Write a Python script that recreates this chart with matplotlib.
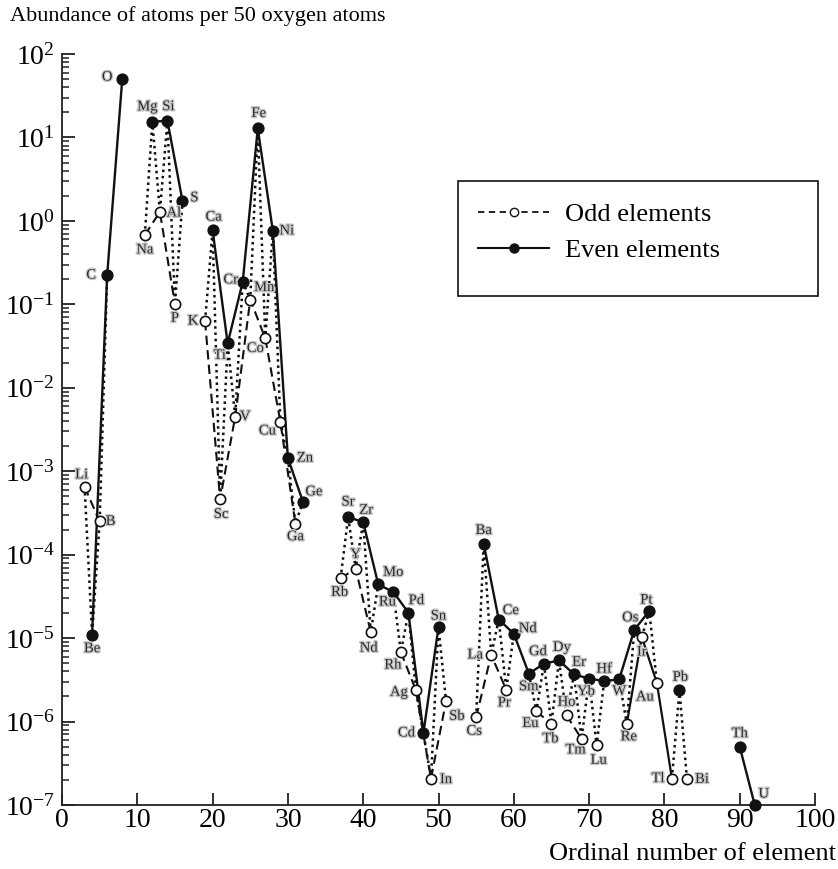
import matplotlib
matplotlib.use('Agg')
import matplotlib.pyplot as plt
import matplotlib.patheffects as pe
from matplotlib.lines import Line2D
from matplotlib.patches import Rectangle
from matplotlib.ticker import LogLocator, NullFormatter, FixedLocator

plt.rcParams['font.family'] = ['Liberation Serif', 'DejaVu Serif']
plt.rcParams['mathtext.default'] = 'regular'

# ---------------- data ----------------
odd_names = ['Li', 'B', 'Na', 'Al', 'P', 'K', 'Sc', 'V', 'Mn', 'Co', 'Cu', 'Ga',
             'Rb', 'Y', 'Nd', 'Rh', 'Ag', 'In', 'Sb', 'Cs', 'La', 'Pr', 'Eu', 'Tb',
             'Ho', 'Tm', 'Lu', 'Re', 'Ir', 'Au', 'Tl', 'Bi']
odd_z = [3, 5, 11, 13, 15, 19, 21, 23, 25, 27, 29, 31,
         37, 39, 41, 45, 47, 49, 51, 55, 57, 59, 63, 65,
         67, 69, 71, 75, 77, 79, 81, 83]
odd_vals = [6.5e-4, 2.5e-4, 0.68, 1.28, 0.10, 0.063, 4.6e-4, 4.5e-3, 0.114, 0.039, 3.9e-3, 2.35e-4,
            5.2e-5, 6.8e-5, 1.18e-5, 6.8e-6, 2.37e-6, 2.07e-7, 1.75e-6, 1.13e-6, 6.3e-6, 2.4e-6, 1.32e-6, 9.4e-7,
            1.19e-6, 6.2e-7, 5.2e-7, 9.4e-7, 1.03e-5, 2.9e-6, 2.07e-7, 2.03e-7]

even_names = ['Be', 'C', 'O', 'Mg', 'Si', 'S', 'Ca', 'Ti', 'Cr', 'Fe', 'Ni', 'Zn', 'Ge',
              'Sr', 'Zr', 'Mo', 'Ru', 'Pd', 'Cd', 'Sn', 'Ba', 'Ce', 'Nd', 'Sm', 'Gd', 'Dy',
              'Er', 'Yb', 'Hf', 'W', 'Os', 'Pt', 'Pb', 'Th', 'U']
even_z = [4, 6, 8, 12, 14, 16, 20, 22, 24, 26, 28, 30, 32,
          38, 40, 42, 44, 46, 48, 50, 56, 58, 60, 62, 64, 66,
          68, 70, 72, 74, 76, 78, 82, 90, 92]
even_vals = [1.1e-5, 0.224, 50.0, 15.4, 15.9, 1.74, 0.776, 0.034, 0.186, 12.8, 0.76, 1.44e-3, 4.3e-4,
             2.83e-4, 2.45e-4, 4.4e-5, 3.57e-5, 2.02e-5, 7.3e-7, 1.36e-5, 1.36e-4, 1.67e-5, 1.13e-5, 3.75e-6, 4.94e-6, 5.4e-6,
             3.68e-6, 3.27e-6, 3.06e-6, 3.2e-6, 1.26e-5, 2.11e-5, 2.37e-6, 5.0e-7, 1.0e-7]

# connected groups (by ordinal number)
odd_dashed_chains = [[3, 5], [11, 13, 15], [19, 21, 23, 25, 27, 29, 31], [37, 39, 41],
                     [45, 47, 49, 51], [55, 57, 59], [63, 65], [67, 69]]
odd_solid_chains = [[75, 77, 79, 81]]
even_chains = [[4, 6, 8], [12, 14, 16], [20, 22, 24, 26, 28, 30, 32],
               [38, 40, 42, 44, 46, 48, 50],
               [56, 58, 60, 62, 64, 66, 68, 70, 72, 74, 76, 78], [90, 92]]

x_ticks = [0, 10, 20, 30, 40, 50, 60, 70, 80, 90, 100]
y_ticks = [1e-7, 1e-6, 1e-5, 1e-4, 1e-3, 1e-2, 1e-1, 1e0, 1e1, 1e2]

# label offsets in pixels (dx, dy), keyed by ordinal number
label_off = {
    3: (-3, 12), 4: (0, -14), 5: (11, 0), 6: (-16, 0), 8: (-15, 2),
    11: (0, -15), 12: (-5, 15), 13: (14, -1), 14: (1, 14), 15: (0, -14), 16: (12, 3),
    19: (-12, 0), 20: (1, 13), 21: (1, -15), 22: (-8, -12), 23: (10, 0), 24: (-12, 2),
    25: (14, 12), 26: (1, 15), 27: (-10, -10), 28: (14, 0), 29: (-13, -9), 30: (17, 0),
    31: (0, -13), 32: (11, 10),
    37: (-1, -14), 38: (0, 15), 39: (0, 14), 40: (3, 12), 41: (-2, -16), 42: (15, 12),
    44: (-6, -10), 45: (-8, -13), 46: (8, 12), 47: (-17, -2), 48: (-17, 0), 49: (15, -1),
    50: (0, 11), 51: (11, -15),
    55: (-2, -14), 56: (0, 13), 57: (-16, 0), 58: (12, 9), 59: (-2, -13), 60: (14, 5),
    62: (0, -13), 63: (-6, -12), 64: (-6, 12), 65: (-1, -15), 66: (3, 13), 67: (0, 13),
    68: (5, 12), 69: (-6, -11), 70: (-3, -13), 71: (2, -15), 72: (0, 12), 74: (0, -12),
    75: (2, -13), 76: (-4, 12), 77: (0, -15), 78: (-3, 11), 79: (-12, -14),
    81: (-14, 0), 82: (1, 13), 83: (15, 0), 90: (0, 13), 92: (9, 11),
}

# ---------------- figure ----------------
W, H = 838, 869
fig = plt.figure(figsize=(W / 100, H / 100), dpi=100)
ax = fig.add_axes([62 / W, 1 - 805 / H, (815 - 62) / W, (805 - 54) / H])
ax.set_yscale('log')
ax.set_xlim(0, 100)
ax.set_ylim(1e-7, 1e2)

odd_map = dict(zip(odd_z, odd_vals))
even_map = dict(zip(even_z, even_vals))
all_map = {**odd_map, **even_map}

# dotted lines between consecutive elements
zs = sorted(all_map)
run = [zs[0]]
runs = []
for z in zs[1:]:
    if z - run[-1] == 1:
        run.append(z)
    else:
        runs.append(run)
        run = [z]
runs.append(run)
for r in runs:
    if len(r) > 1:
        ax.plot(r, [all_map[z] for z in r], color='#111111', lw=1.8,
                ls=(0, (1, 1.5)), dash_capstyle='butt', zorder=1, clip_on=False)

for ch in odd_dashed_chains:
    ax.plot(ch, [odd_map[z] for z in ch], color='#111111', lw=1.5,
            ls=(0, (4.5, 2.5)), zorder=2)
for ch in odd_solid_chains:
    ax.plot(ch, [odd_map[z] for z in ch], color='#111111', lw=1.6, zorder=2)
for ch in even_chains:
    ax.plot(ch, [even_map[z] for z in ch], color='#111111', lw=1.7, zorder=2,
            clip_on=False)

ax.plot(even_z, even_vals, ls='none', marker='o', ms=7.8, mfc='#111111',
        mec='#111111', zorder=3, clip_on=False)
ax.plot(odd_z, odd_vals, ls='none', marker='o', ms=7.4, mfc='white',
        mec='#111111', mew=1.2, zorder=3, clip_on=False)

effects = [pe.Stroke(linewidth=2.0, foreground='#c9c9c9'), pe.Normal()]
for names, zlist, vals in ((odd_names, odd_z, odd_vals), (even_names, even_z, even_vals)):
    for n, z, v in zip(names, zlist, vals):
        dx, dy = label_off[z]
        ax.annotate(n, (z, v), xytext=(dx, dy), textcoords='offset pixels',
                    ha='center', va='center', fontsize=10.5, color='#2a2a2a',
                    path_effects=effects, zorder=4, annotation_clip=False)

# axes styling
for s in ('top', 'right'):
    ax.spines[s].set_visible(False)
for s in ('left', 'bottom'):
    ax.spines[s].set_linewidth(1.3)
    ax.spines[s].set_color('#222222')
ax.set_xticks(x_ticks)
ax.yaxis.set_major_locator(FixedLocator(y_ticks))
ax.yaxis.set_minor_locator(LogLocator(base=10, subs=[2, 3, 4, 5, 6, 7, 8, 9], numticks=20))
ax.yaxis.set_minor_formatter(NullFormatter())
ax.set_ylim(1e-7, 1e2)
ax.tick_params(axis='both', which='major', direction='in', length=9, width=1.3,
               labelsize=20, colors='#222222', labelcolor='black')
ax.tick_params(axis='y', which='minor', direction='in', length=5, width=1.1,
               colors='#222222')
ax.tick_params(axis='x', which='major', pad=2)
ax.tick_params(axis='y', which='major', pad=5)

fig.text(10 / W, 1 - 16 / H, 'Abundance of atoms per 50 oxygen atoms',
         fontsize=16, ha='left', va='center')
fig.text(836 / W, 1 - 854 / H, 'Ordinal number of element',
         fontsize=19, ha='right', va='center')

# legend
handles = [Line2D([], [], color='#111111', lw=1.3, ls=(0, (3.5, 2.5)), marker='o',
                  ms=6, mfc='white', mec='#111111', mew=1.0),
           Line2D([], [], color='#111111', lw=1.5, marker='o', ms=6.5,
                  mfc='#111111', mec='#111111')]
fig.legend(handles, ['Odd elements', 'Even elements'], loc='upper left',
           bbox_to_anchor=(478 / W, 1 - 203 / H), frameon=False, borderpad=0,
           borderaxespad=0, handlelength=2.7, handletextpad=0.6, fontsize=19,
           labelspacing=0.45)
fig.add_artist(Rectangle((458 / W, 1 - 296 / H), 360 / W, 115 / H,
                         transform=fig.transFigure, fill=False, lw=1.2,
                         ec='#111111'))

fig.savefig('out.png', dpi=100)
